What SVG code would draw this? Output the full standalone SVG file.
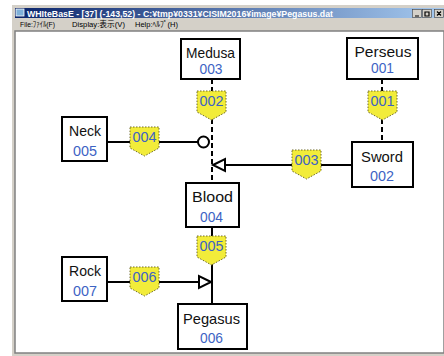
<svg xmlns="http://www.w3.org/2000/svg" width="444" height="356" viewBox="0 0 444 356">
<defs>
<linearGradient id="tb" x1="0" y1="0" x2="1" y2="0">
<stop offset="0" stop-color="#0a246a"/>
<stop offset="1" stop-color="#a6caf0"/>
</linearGradient>
<path id="lbl" d="M0,0 H29 V21 L14.5,29 L0,21 Z"/>
</defs>
<style>
.box{fill:#fff;stroke:#000;stroke-width:2}
.nm{font-family:"Liberation Sans",Arial,sans-serif;font-size:15px;fill:#111;text-anchor:middle}
.id{font-family:"Liberation Sans",Arial,sans-serif;font-size:15px;fill:#3d63c4;text-anchor:middle}
.lb{fill:#f2ec3a;stroke:#6f6a2a;stroke-width:1;stroke-dasharray:1.5 1.5}
.lt{font-family:"Liberation Sans",Arial,sans-serif;font-size:14px;fill:#3d63c4;text-anchor:middle}
.ln{stroke:#000;stroke-width:2;fill:none}
.dash{stroke-dasharray:5 3}
.arr{fill:#fff;stroke:#000;stroke-width:2}
.menu{font-family:"Liberation Sans","Noto Sans CJK JP",sans-serif;font-size:8px;fill:#000}
</style>
<rect x="0" y="0" width="444" height="356" fill="#fff"/>
<g id="window">
<rect x="12" y="5" width="432" height="351" fill="#d4d0c8"/>
<rect x="15" y="8" width="429" height="10" fill="url(#tb)"/>
<rect x="16" y="9" width="8" height="7" fill="#7fb0d8" stroke="#fff" stroke-width="0.8"/>
<text x="27" y="16.5" font-family="Liberation Sans,Arial,sans-serif" font-size="9" font-weight="bold" fill="#fff" textLength="306" lengthAdjust="spacingAndGlyphs">WHIteBasE - [37] (-143,52)  - C:¥tmp¥0331¥CISIM2016¥image¥Pegasus.dat</text>
<g fill="#d4d0c8" stroke="#404040" stroke-width="0.6">
<rect x="412.5" y="9.5" width="9" height="8"/>
<rect x="422.5" y="9.5" width="9" height="8"/>
<rect x="434.5" y="9.5" width="9" height="8"/>
</g>
<path d="M415,16 h4 M425,12 h4 v4 h-4 z M437,11.5 l4,4 M441,11.5 l-4,4" stroke="#000" stroke-width="1.2" fill="none"/>
<text class="menu" x="20" y="27" textLength="35" lengthAdjust="spacingAndGlyphs">File:ﾌｧｲﾙ(F)</text>
<text class="menu" x="72" y="27" textLength="53" lengthAdjust="spacingAndGlyphs">Display:表示(V)</text>
<text class="menu" x="135" y="27" textLength="43" lengthAdjust="spacingAndGlyphs">Help:ﾍﾙﾌﾟ(H)</text>
<rect x="15" y="31" width="429" height="322" fill="#fff" stroke="#808080" stroke-width="1.5"/>
</g>
<g id="connectors">
<line class="ln dash" x1="382" y1="79" x2="382" y2="142"/>
<line class="ln dash" x1="212" y1="79" x2="212" y2="183"/>
<line class="ln" x1="107" y1="142" x2="198" y2="142"/>
<circle class="arr" cx="203.5" cy="142" r="5.5"/>
<line class="ln" x1="352" y1="165" x2="225" y2="165"/>
<path class="arr" d="M213,165 L225,159 L225,171 Z"/>
<line class="ln" x1="212" y1="227" x2="212" y2="304"/>
<line class="ln" x1="107" y1="282" x2="199" y2="282"/>
<path class="arr" d="M211,282 L199,276 L199,288 Z"/>
<use class="lb" href="#lbl" x="368" y="91"/>
<text class="lt" x="382.5" y="106" textLength="24" lengthAdjust="spacingAndGlyphs">001</text>
<use class="lb" href="#lbl" x="197" y="91"/>
<text class="lt" x="211.5" y="106" textLength="24" lengthAdjust="spacingAndGlyphs">002</text>
<use class="lb" href="#lbl" x="292" y="150"/>
<text class="lt" x="306.5" y="165" textLength="24" lengthAdjust="spacingAndGlyphs">003</text>
<use class="lb" href="#lbl" x="130" y="127"/>
<text class="lt" x="144.5" y="142" textLength="24" lengthAdjust="spacingAndGlyphs">004</text>
<use class="lb" href="#lbl" x="197" y="236"/>
<text class="lt" x="211.5" y="251" textLength="24" lengthAdjust="spacingAndGlyphs">005</text>
<use class="lb" href="#lbl" x="130" y="267"/>
<text class="lt" x="144.5" y="282" textLength="24" lengthAdjust="spacingAndGlyphs">006</text>
</g>
<g id="node-perseus">
<rect class="box" x="347" y="38" width="71" height="41"/>
<text class="nm" x="383" y="57" textLength="57" lengthAdjust="spacingAndGlyphs">Perseus</text>
<text class="id" x="382.5" y="73" textLength="23" lengthAdjust="spacingAndGlyphs">001</text>
</g>
<g id="node-medusa">
<rect class="box" x="181" y="39" width="59" height="40"/>
<text class="nm" x="210.5" y="58" textLength="49" lengthAdjust="spacingAndGlyphs">Medusa</text>
<text class="id" x="211" y="73.5" textLength="23" lengthAdjust="spacingAndGlyphs">003</text>
</g>
<g id="node-neck">
<rect class="box" x="62" y="117" width="45" height="44"/>
<text class="nm" x="85" y="136" textLength="32" lengthAdjust="spacingAndGlyphs">Neck</text>
<text class="id" x="85" y="155.5" textLength="24" lengthAdjust="spacingAndGlyphs">005</text>
</g>
<g id="node-sword">
<rect class="box" x="352" y="142" width="61" height="45"/>
<text class="nm" x="382" y="162" textLength="42" lengthAdjust="spacingAndGlyphs">Sword</text>
<text class="id" x="382" y="181" textLength="24" lengthAdjust="spacingAndGlyphs">002</text>
</g>
<g id="node-blood">
<rect class="box" x="186" y="183" width="53" height="44"/>
<text class="nm" x="212.5" y="202" textLength="41" lengthAdjust="spacingAndGlyphs">Blood</text>
<text class="id" x="211.5" y="222" textLength="23" lengthAdjust="spacingAndGlyphs">004</text>
</g>
<g id="node-rock">
<rect class="box" x="62" y="257" width="45" height="44"/>
<text class="nm" x="85" y="276" textLength="32" lengthAdjust="spacingAndGlyphs">Rock</text>
<text class="id" x="85" y="296" textLength="24" lengthAdjust="spacingAndGlyphs">007</text>
</g>
<g id="node-pegasus">
<rect class="box" x="178" y="304" width="69" height="45"/>
<text class="nm" x="211.5" y="324" textLength="57" lengthAdjust="spacingAndGlyphs">Pegasus</text>
<text class="id" x="211.5" y="343" textLength="23" lengthAdjust="spacingAndGlyphs">006</text>
</g>
</svg>
